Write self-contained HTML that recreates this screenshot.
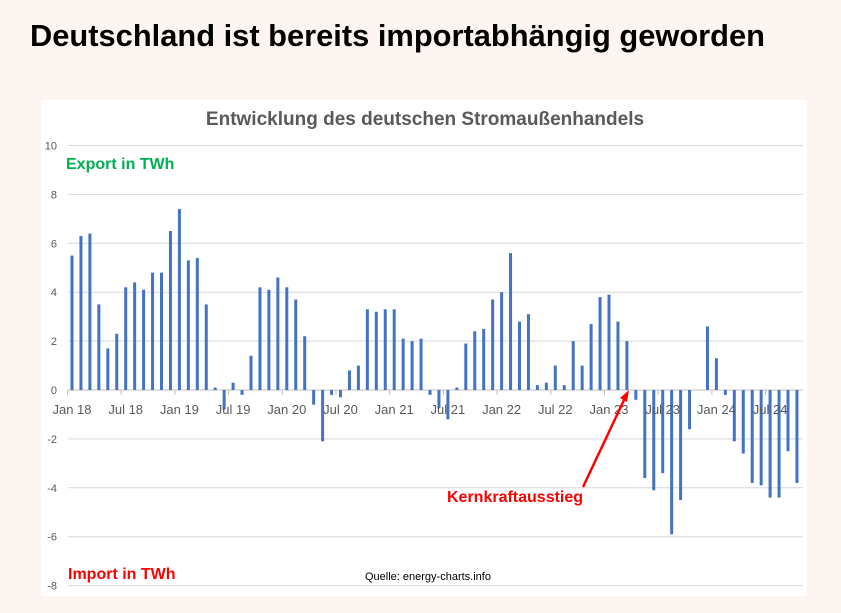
<!DOCTYPE html>
<html><head><meta charset="utf-8"><style>
body{margin:0;background:#fdf5f2;width:841px;height:613px;overflow:hidden;font-family:"Liberation Sans","DejaVu Sans",sans-serif}
</style></head><body>
<svg width="841" height="613" style="position:absolute;left:0;top:0">
<text x="30" y="46" font-size="31" font-weight="bold" fill="#000" textLength="735" lengthAdjust="spacingAndGlyphs">Deutschland ist bereits importabhängig geworden</text>
<rect x="41" y="100" width="766" height="496" fill="#fff"/>
<text x="425" y="125" font-size="19" font-weight="bold" fill="#595959" text-anchor="middle">Entwicklung des deutschen Stromaußenhandels</text>
<g id="grid"></g><g id="bars"></g><g id="xl"></g>
<text x="66" y="169" font-size="16" font-weight="bold" fill="#00b050">Export in TWh</text>
<text x="68" y="579" font-size="16" font-weight="bold" fill="#ff0000">Import in TWh</text>
<text x="365" y="580" font-size="11" fill="#000">Quelle: energy-charts.info</text>
<text x="447" y="502" font-size="16" font-weight="bold" fill="#ff0000">Kernkraftausstieg</text>
<line x1="583" y1="487" x2="625" y2="398" stroke="#ff0000" stroke-width="2.5"/>
<polygon points="629,390 627,402 620,398" fill="#ff0000"/>
</svg>
<script>
const values=[5.5,6.3,6.4,3.5,1.7,2.3,4.2,4.4,4.1,4.8,4.8,6.5,7.4,5.3,5.4,3.5,0.1,-0.8,0.3,-0.2,1.4,4.2,4.1,4.6,4.2,3.7,2.2,-0.6,-2.1,-0.2,-0.3,0.8,1.0,3.3,3.2,3.3,3.3,2.1,2.0,2.1,-0.2,-0.75,-1.2,0.1,1.9,2.4,2.5,3.7,4.0,5.6,2.8,3.1,0.2,0.3,1.0,0.2,2.0,1.0,2.7,3.8,3.9,2.8,2.0,-0.4,-3.6,-4.1,-3.4,-5.9,-4.5,-1.6,0,2.6,1.3,-0.2,-2.1,-2.6,-3.8,-3.9,-4.4,-4.4,-2.5,-3.8];
const yTicks=[10,8,6,4,2,0,-2,-4,-6,-8];
const xLabels=["Jan 18","Jul 18","Jan 19","Jul 19","Jan 20","Jul 20","Jan 21","Jul 21","Jan 22","Jul 22","Jan 23","Jul 23","Jan 24","Jul 24"];
const NS='http://www.w3.org/2000/svg';
const y=v=>390-v*24.45;
const x=i=>72+i*8.95;
const g=document.getElementById('grid'),b=document.getElementById('bars'),xl=document.getElementById('xl');
function mk(t,a,p){const e=document.createElementNS(NS,t);for(const k in a)e.setAttribute(k,a[k]);p.appendChild(e);return e;}
yTicks.forEach(t=>{
 const l=mk('line',{x1:68,x2:803,y1:y(t),y2:y(t),stroke:t===0?'#bfbfbf':'#d9d9d9','stroke-width':1},g);
 
 
 const tx=mk('text',{x:57,y:y(t)+4,'font-size':11,fill:'#595959','text-anchor':'end'},g);
 tx.textContent=t;
 
 
});
values.forEach((v,i)=>{
 const r=mk('rect',{x:x(i)-1.5,width:3,y:Math.min(y(v),y(0)),height:Math.abs(y(v)-y(0)),fill:'#4472c4'},b);
 
 
});
xLabels.forEach((s,k)=>{
 const i=k*6;
 const tk=mk('line',{x1:x(i)-4.5,x2:x(i)-4.5,y1:390,y2:395,stroke:'#bfbfbf'},xl);
 
 
 const t=mk('text',{x:x(i),y:414,'font-size':13,fill:'#595959','text-anchor':'middle'},xl);
 t.textContent=s;
 
 
});
</script>
</body></html>
